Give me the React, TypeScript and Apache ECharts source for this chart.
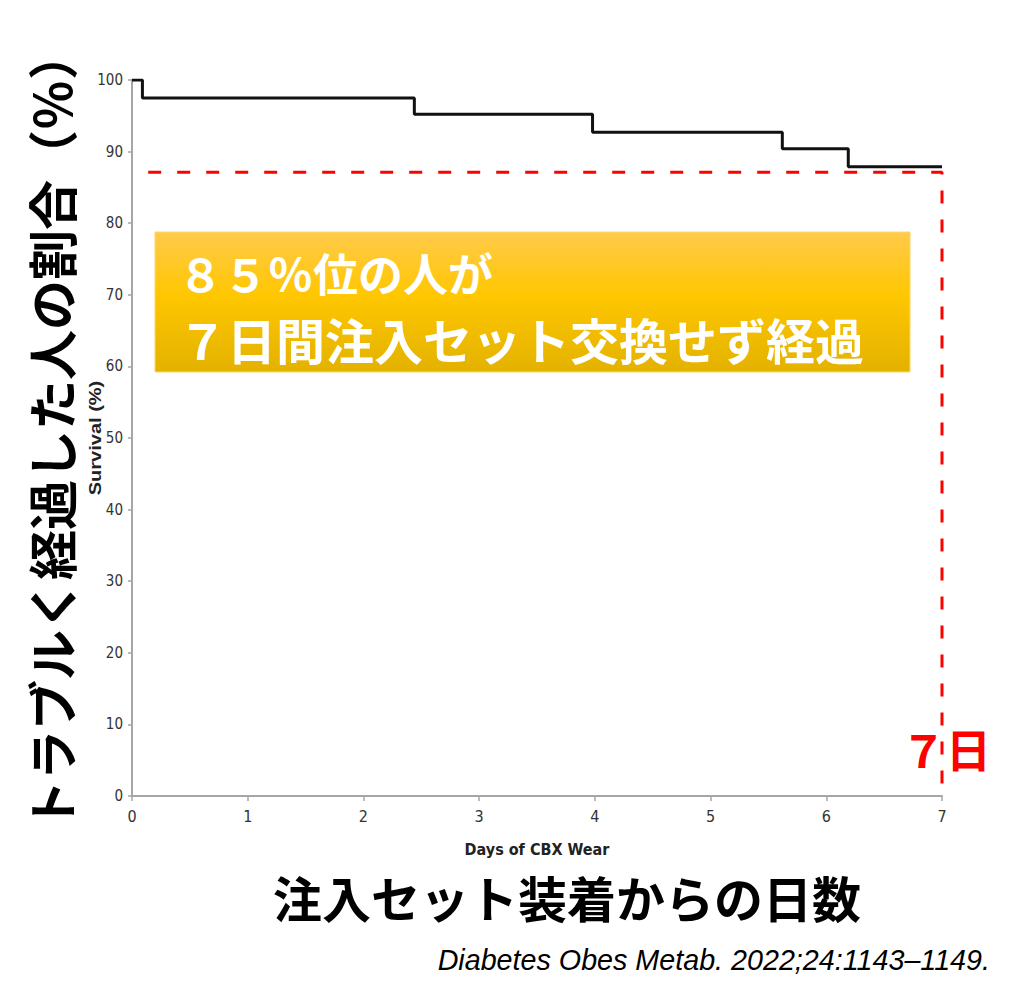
import React, { useEffect, useRef } from "react";
import * as echarts from "echarts";

// Kaplan–Meier step curve (days of CBX wear vs survival %)
const days = [0, 0.09, 2.44, 3.98, 5.62, 6.19, 7.0];
const survival = [100, 97.5, 95.2, 92.7, 90.4, 87.9, 87.9];

// red dashed reference (≈87% at day 7)
const refDays = [0.14, 7.0, 7.0];
const refValues = [87.1, 87.1, 1.5];

const xMin = 0;
const xMax = 7;
const yMin = 0;
const yMax = 100;

const yTitle = "トラブルく経過した人の割合（％）";
const xTitle = "注入セット装着からの日数";
const yAxisName = "Survival (%)";
const xAxisName = "Days of CBX Wear";
const boxLine1 = "８５％位の人が";
const boxLine2 = "７日間注入セット交換せず経過";
const dayMark = "７日";
const citation = "Diabetes Obes Metab. 2022;24:1143–1149.";

const NARROW = "'Liberation Sans Narrow', 'Arial Narrow', 'DejaVu Sans Condensed', sans-serif";
const CJK = "'Noto Sans CJK JP', 'Noto Sans CJK SC', sans-serif";

export default function App() {
  const ref = useRef<HTMLDivElement>(null);

  useEffect(() => {
    if (!ref.current) return;
    const chart = echarts.init(ref.current, null, { renderer: "svg" });
    const curve = days.map((d, i) => [d, survival[i]]);
    const refLine = refDays.map((d, i) => [d, refValues[i]]);

    chart.setOption({
      animation: false,
      backgroundColor: "#ffffff",
      grid: { left: 132, right: 82, top: 80, bottom: 198 },
      xAxis: {
        type: "value",
        min: xMin,
        max: xMax,
        interval: 1,
        splitLine: { show: false },
        axisLine: { show: true, lineStyle: { color: "#a6a6a6", width: 2 } },
        axisTick: { show: true, length: 5, lineStyle: { color: "#a6a6a6", width: 1.5 } },
        axisLabel: { color: "#333", fontSize: 16, fontFamily: NARROW, margin: 12 },
      },
      yAxis: {
        type: "value",
        min: yMin,
        max: yMax,
        interval: 10,
        splitLine: { show: false },
        axisLine: { show: true, lineStyle: { color: "#a6a6a6", width: 2 } },
        axisTick: { show: true, length: 4, lineStyle: { color: "#a6a6a6", width: 1.5 } },
        axisLabel: { color: "#333", fontSize: 15, fontFamily: NARROW, margin: 9 },
      },
      series: [
        {
          type: "line",
          data: curve,
          step: "end",
          symbol: "none",
          lineStyle: { color: "#111", width: 3 },
          z: 3,
        },
        {
          type: "line",
          data: refLine,
          symbol: "none",
          clip: false,
          lineStyle: { color: "#ff0000", width: 3, type: [13, 16] },
          z: 4,
        },
      ],
      graphic: [
        {
          type: "rect",
          shape: { x: 155, y: 232, width: 755, height: 140 },
          style: {
            fill: new echarts.graphic.LinearGradient(0, 0, 0, 1, [
              { offset: 0, color: "#ffca4c" },
              { offset: 0.45, color: "#ffc700" },
              { offset: 1, color: "#e3b200" },
            ]),
            stroke: "#ffd766",
            lineWidth: 1,
          },
          z: 10,
        },
        {
          type: "text",
          x: 178,
          y: 272,
          style: {
            text: boxLine1,
            fill: "#ffffff",
            font: `bold 45px ${CJK}`,
            verticalAlign: "middle",
            align: "left",
            shadowColor: "rgba(120,80,0,0.45)",
            shadowBlur: 2,
            shadowOffsetX: 1,
            shadowOffsetY: 1,
          },
          z: 11,
        },
        {
          type: "text",
          x: 178,
          y: 338,
          style: {
            text: boxLine2,
            fill: "#ffffff",
            font: `bold 49px ${CJK}`,
            verticalAlign: "middle",
            align: "left",
            shadowColor: "rgba(120,80,0,0.45)",
            shadowBlur: 2,
            shadowOffsetX: 1,
            shadowOffsetY: 1,
          },
          z: 11,
        },
        {
          type: "text",
          x: 50,
          y: 430,
          rotation: Math.PI / 2,
          style: {
            text: yTitle,
            fill: "#000",
            font: `bold 50px ${CJK}`,
            align: "center",
            verticalAlign: "middle",
          },
        },
        {
          type: "text",
          x: 567,
          y: 896,
          style: {
            text: xTitle,
            fill: "#000",
            font: `bold 49px ${CJK}`,
            align: "center",
            verticalAlign: "middle",
          },
        },
        {
          type: "text",
          x: 96,
          y: 438,
          rotation: Math.PI / 2,
          scaleX: 1.25,
          style: {
            text: yAxisName,
            fill: "#222",
            font: `bold 16px 'Liberation Sans', Arial, sans-serif`,
            align: "center",
            verticalAlign: "middle",
          },
        },
        {
          type: "text",
          x: 537,
          y: 849,
          style: {
            text: xAxisName,
            fill: "#222",
            font: `bold 16px ${NARROW}`,
            align: "center",
            verticalAlign: "middle",
          },
        },
        {
          type: "text",
          x: 901,
          y: 748,
          style: {
            text: dayMark,
            fill: "#ff0000",
            font: `bold 45px ${CJK}`,
            align: "left",
            verticalAlign: "middle",
          },
          z: 2,
        },
        {
          type: "text",
          x: 990,
          y: 960,
          style: {
            text: citation,
            fill: "#000",
            font: `italic 28.7px 'Liberation Sans', Arial, sans-serif`,
            align: "right",
            verticalAlign: "middle",
          },
        },
      ],
    });

    return () => chart.dispose();
  }, []);

  return (
    <div
      ref={ref}
      style={{ position: "absolute", left: 0, top: 0, width: 1024, height: 994 }}
    />
  );
}
